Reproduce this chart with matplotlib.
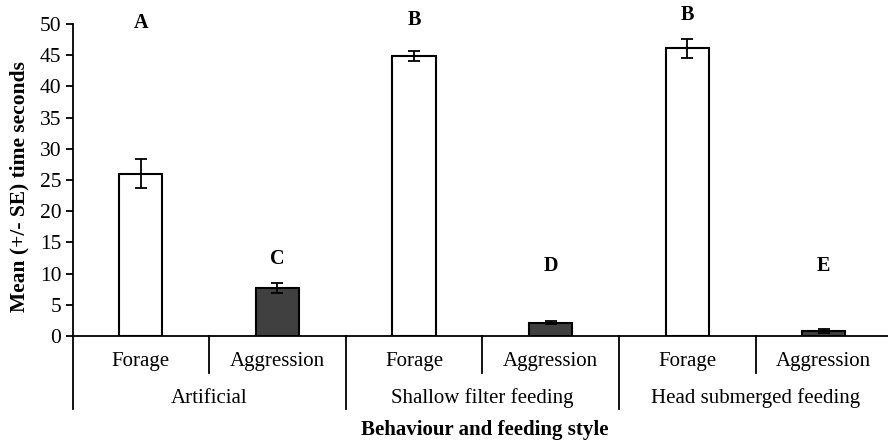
import numpy as np
import matplotlib.pyplot as plt
import matplotlib.transforms as mtransforms

plt.rcParams['font.family'] = ['Liberation Serif', 'DejaVu Serif']

behaviours = ["Forage", "Aggression", "Forage", "Aggression", "Forage", "Aggression"]
feeding = ["Artificial", "Shallow filter feeding", "Head submerged feeding"]
means = [26.0, 7.7, 44.9, 2.1, 46.1, 0.8]
se = [2.3, 0.8, 0.75, 0.25, 1.5, 0.25]
letters = ["A", "C", "B", "D", "B", "E"]
letter_y = [50.2, 12.3, 50.6, 11.2, 51.5, 11.2]
colors = ["white", "#404040", "white", "#404040", "white", "#404040"]

fig = plt.figure(figsize=(8.88, 4.45), dpi=100)
W, H = 888, 445
left, right, top, bottom = 72.5, 888, 24, 336
ax = fig.add_axes([left / W, 1 - bottom / H, (right - left) / W, (bottom - top) / H])

x = np.arange(len(means))
ax.bar(x, means, width=0.315, color=colors, edgecolor="black", linewidth=1.5, zorder=2)
ax.errorbar(x, means, yerr=se, fmt="none", ecolor="black", elinewidth=1.3,
            capsize=4, capthick=1.3, zorder=3)

for xi, lab, ly in zip(x, letters, letter_y):
    ax.text(xi, ly, lab, ha="center", va="center", fontsize=14.5, fontweight="bold",
            clip_on=False)

ax.set_ylim(0, 50)
ax.set_xlim(-0.5, -0.5 + (right - left) / 136.6)
ax.set_yticks(np.arange(0, 51, 5))
ax.tick_params(axis="y", labelsize=15.5, length=5, width=1.3, direction="out", pad=3)
ax.set_xticks([])
for s in ["top", "right"]:
    ax.spines[s].set_visible(False)
ax.spines["left"].set_linewidth(1.3)
ax.spines["bottom"].set_linewidth(1.3)

trans = mtransforms.blended_transform_factory(ax.transData, ax.transAxes)
for xs in [0.5, 2.5, 4.5]:
    ax.plot([xs, xs], [0, -0.119], transform=trans, color="black", lw=1.3, clip_on=False)
for xs in [-0.5, 1.5, 3.5]:
    ax.plot([xs, xs], [0, -0.234], transform=trans, color="black", lw=1.3, clip_on=False)

for xi, lab in zip(x, behaviours):
    ax.text(xi, -0.083, lab, transform=trans, ha="center", va="center", fontsize=15)
for i, lab in enumerate(feeding):
    ax.text(2 * i + 0.5, -0.2, lab, transform=trans, ha="center", va="center", fontsize=15)

ax.text(0.505, -0.302, "Behaviour and feeding style", transform=ax.transAxes,
        ha="center", va="center", fontsize=15, fontweight="bold")
ax.set_ylabel("Mean (+/- SE) time seconds", fontsize=15.5, fontweight="bold")
ax.yaxis.set_label_coords(-0.053, 0.48)

fig.savefig("out.png", dpi=100)
